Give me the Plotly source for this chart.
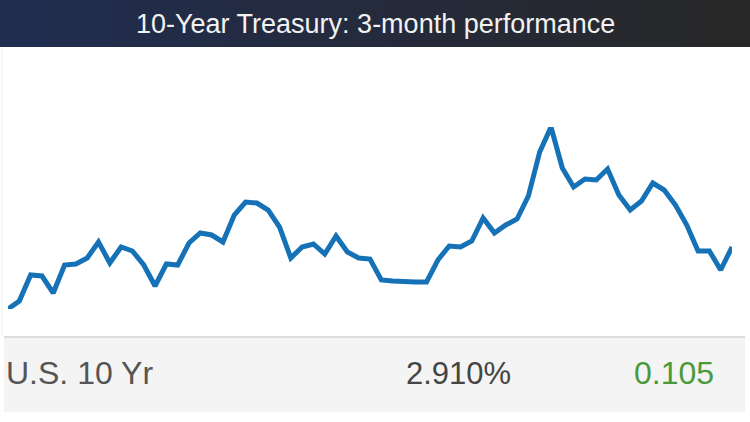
import plotly.graph_objects as go

# 10-year yield, 3-month daily closes
yields = [
    2.724, 2.748, 2.826, 2.823, 2.772, 2.856, 2.859, 2.877, 2.925, 2.862,
    2.910, 2.898, 2.856, 2.793, 2.859, 2.856, 2.922, 2.952, 2.946, 2.925,
    3.006, 3.045, 3.042, 3.021, 2.970, 2.877, 2.910, 2.919, 2.889, 2.943,
    2.895, 2.877, 2.874, 2.811, 2.808, 2.805, 2.805, 2.805, 2.871, 2.913,
    2.910, 2.928, 2.997, 2.952, 2.976, 2.994, 3.063, 3.195, 3.270, 3.147,
    3.090, 3.114, 3.111, 3.144, 3.066, 3.021, 3.048, 3.102, 3.081, 3.036,
    2.976, 2.898, 2.898, 2.841, 2.910,
]
days = list(range(len(yields)))

title_text = "10-Year Treasury: 3-month performance"
ticker_name = "U.S. 10 Yr"
last_yield = "2.910%"
last_change = "0.105"

W, H = 750, 422


def px(x):
    return x / W


def py(y):
    return 1 - y / H


fig = go.Figure()

fig.add_trace(go.Scatter(
    x=days,
    y=yields,
    mode="lines",
    line=dict(color="#1672b6", width=5),
    hoverinfo="x+y",
))

shapes = []

# title bar: navy -> charcoal gradient made of thin strips
n_strips = 60
c0 = (33, 45, 80)
c1 = (40, 40, 40)
for i in range(n_strips):
    t = i / (n_strips - 1)
    col = tuple(round(c0[k] + (c1[k] - c0[k]) * t) for k in range(3))
    shapes.append(dict(
        type="rect", xref="paper", yref="paper",
        x0=px(W * i / n_strips), x1=px(W * (i + 1) / n_strips + 1),
        y0=py(47), y1=py(0),
        fillcolor="rgb(%d,%d,%d)" % col, line=dict(width=0), layer="below",
    ))

# faint left border of the chart box
shapes.append(dict(
    type="line", xref="paper", yref="paper",
    x0=px(2), x1=px(2), y0=py(47), y1=py(336),
    line=dict(color="#ececec", width=1), layer="below",
))

# quote strip at the bottom
shapes.append(dict(
    type="rect", xref="paper", yref="paper",
    x0=px(4), x1=px(745), y0=py(412), y1=py(337),
    fillcolor="#f4f4f4", line=dict(width=0), layer="below",
))
shapes.append(dict(
    type="line", xref="paper", yref="paper",
    x0=px(4), x1=px(745), y0=py(337), y1=py(337),
    line=dict(color="#dddddd", width=2), layer="below",
))

sans = "Liberation Sans, Arial, sans-serif"

annotations = [
    dict(text=title_text, x=0.5, y=py(24), xref="paper", yref="paper",
         xanchor="center", yanchor="middle", showarrow=False,
         font=dict(family=sans, size=27, color="#f2f2f2")),
    dict(text=ticker_name, x=px(4), y=py(373), xref="paper", yref="paper",
         xanchor="left", yanchor="middle", showarrow=False,
         font=dict(family=sans, size=32, color="#555555")),
    dict(text=last_yield, x=px(513), y=py(373), xref="paper", yref="paper",
         xanchor="right", yanchor="middle", showarrow=False,
         font=dict(family=sans, size=31, color="#444444")),
    dict(text=last_change, x=px(716), y=py(373), xref="paper", yref="paper",
         xanchor="right", yanchor="middle", showarrow=False,
         font=dict(family=sans, size=32, color="#4a9a3c")),
]

fig.update_layout(
    width=W,
    height=H,
    margin=dict(l=0, r=0, t=0, b=0),
    paper_bgcolor="white",
    plot_bgcolor="rgba(0,0,0,0)",
    showlegend=False,
    shapes=shapes,
    annotations=annotations,
    xaxis=dict(domain=[px(8), px(732)], range=[0, len(yields) - 1],
               visible=False, fixedrange=True),
    yaxis=dict(domain=[py(309), py(127)], range=[min(yields), max(yields)],
               visible=False, fixedrange=True),
)

# drop the browser's default page margin so the figure sits at the window corner
fig.write_html("out.html", config={"displayModeBar": False},
               post_script="document.body.style.margin='0';")
